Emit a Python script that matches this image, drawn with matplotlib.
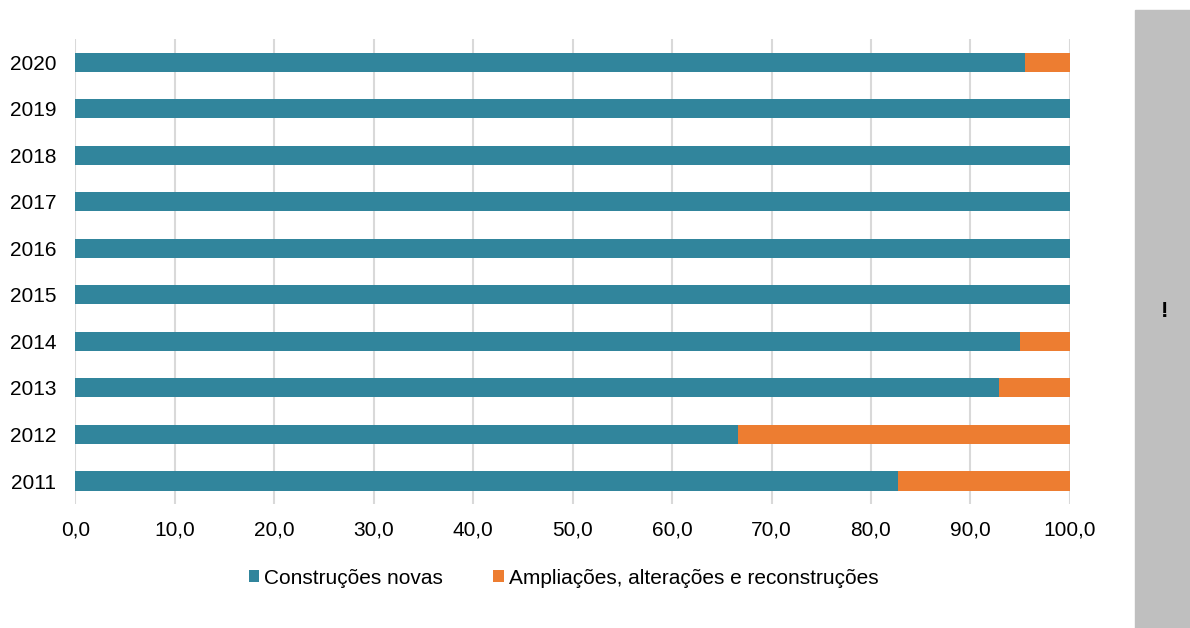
import matplotlib
matplotlib.use("Agg")
import matplotlib.pyplot as plt
from matplotlib.patches import Rectangle

plt.rcParams["font.family"] = ["Liberation Sans", "DejaVu Sans"]

years = ["2011", "2012", "2013", "2014", "2015", "2016", "2017", "2018", "2019", "2020"]
novas = [82.7, 66.6, 92.9, 95.0, 100.0, 100.0, 100.0, 100.0, 100.0, 95.5]
ampliacoes = [17.3, 33.4, 7.1, 5.0, 0.0, 0.0, 0.0, 0.0, 0.0, 4.5]
xticks = [0, 10, 20, 30, 40, 50, 60, 70, 80, 90, 100]

BLUE = "#31859c"
ORANGE = "#ed7d31"

fig = plt.figure(figsize=(11.9, 6.28), dpi=100)
ax = fig.add_axes([0.0634, 0.197, 0.8356, 0.741])

ypos = range(len(years))
ax.barh(ypos, novas, height=0.41, color=BLUE, label="Construções novas", zorder=3)
ax.barh(ypos, ampliacoes, left=novas, height=0.41, color=ORANGE,
        label="Ampliações, alterações e reconstruções", zorder=3)

ax.set_xlim(0, 100)
ax.set_ylim(-0.5, len(years) - 0.5)
ax.set_yticks(list(ypos))
ax.set_yticklabels(years)
ax.set_xticks(xticks)
ax.set_xticklabels([f"{v:.1f}".replace(".", ",") for v in xticks])
ax.tick_params(axis="both", length=0, labelsize=15, colors="#000000")
ax.tick_params(axis="x", pad=12)
ax.tick_params(axis="y", pad=14)
ax.grid(axis="x", color="#d9d9d9", linewidth=1.5, zorder=0)
for s in ax.spines.values():
    s.set_visible(False)

leg = fig.legend(loc="center", bbox_to_anchor=(0.4735, 0.0796), ncol=2, frameon=False,
                 fontsize=15, handlelength=0.5, handleheight=0.5,
                 handletextpad=0.25, columnspacing=2.4)

# gray side panel with exclamation mark
fig.patches.append(Rectangle((1135 / 1190, 0), 55 / 1190, 618 / 628,
                             transform=fig.transFigure, color="#bfbfbf", zorder=0))
fig.text(1165 / 1190, 1 - 311 / 628, "!", fontsize=16, fontweight="bold",
         ha="center", va="center")

fig.savefig("out.png", dpi=100)
